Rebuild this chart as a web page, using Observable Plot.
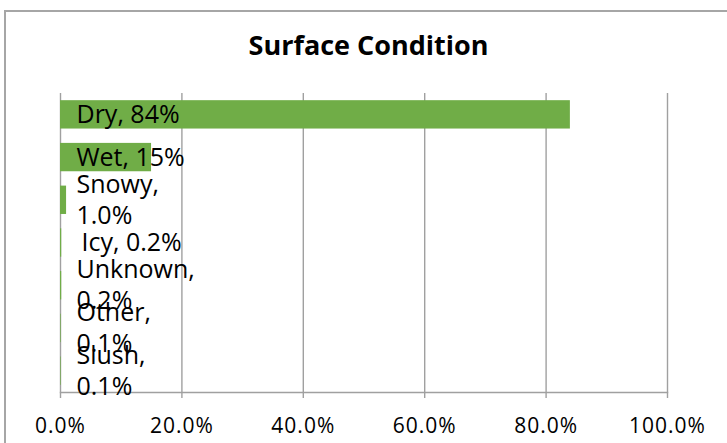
<!DOCTYPE html>
<html>
<head>
<meta charset="utf-8">
<script src="https://cdn.jsdelivr.net/npm/d3@7"></script>
<script src="https://cdn.jsdelivr.net/npm/@observablehq/plot@0.6"></script>
<style>
  html, body { margin: 0; padding: 0; background: #fff; overflow: hidden; }
  body { width: 727px; height: 443px; position: relative; font-family: "Open Sans", sans-serif; }
  #border { position: absolute; left: 4px; top: 10px; width: 900px; height: 700px;
            border: 2px solid #a6a6a6; box-sizing: border-box; pointer-events: none; }
  #title { height: 80px; box-sizing: border-box; padding-top: 30px; padding-left: 10px;
           font: bold 27px/30px "Open Sans", sans-serif; text-align: center; color: #000; }
  #chart svg { display: block; }
  #chart svg g[aria-label="x-axis tick label"] text { letter-spacing: 1px; }
</style>
</head>
<body>
<div id="border"></div>
<div id="title">Surface Condition</div>
<div id="chart"></div>
<script>
// Share of crashes by road surface condition
const categories = ["Dry", "Wet", "Snowy", "Icy", "Unknown", "Other", "Slush"];
const shares = [0.84, 0.15, 0.010, 0.002, 0.002, 0.001, 0.001];
const labels = ["Dry, 84%", "Wet, 15%", "Snowy,\n1.0%", "Icy, 0.2%", "Unknown,\n0.2%", "Other,\n0.1%", "Slush,\n0.1%"];
const xTicks = [0, 0.2, 0.4, 0.6, 0.8, 1.0];

const rows = categories.map((c, i) => ({category: c, share: shares[i], label: labels[i]}));
const gray = "#a0a0a0";

const chart = Plot.plot({
  width: 727,
  height: 363,
  marginTop: 13,
  marginBottom: 51,
  marginLeft: 60,
  marginRight: 60,
  style: {fontFamily: "Open Sans, sans-serif", color: "#000", background: "#fff"},
  x: {domain: [0, 1], ticks: xTicks, tickFormat: d3.format(".1%"), label: null},
  y: {domain: categories, paddingInner: 0.336, paddingOuter: 0.168, round: false, axis: null},
  marks: [
    Plot.gridX(xTicks, {stroke: gray, strokeOpacity: 1, strokeWidth: 1.4}),
    Plot.frame({anchor: "bottom", stroke: gray, strokeWidth: 1.4}),
    Plot.axisX(xTicks, {tickSize: 6, tickPadding: 20, stroke: gray, strokeWidth: 1.4,
      tickFormat: d3.format(".1%"), fontSize: 21, fill: "#000", label: null}),
    Plot.barX(rows, {x: "share", y: "category", fill: "#70ad47"}),
    Plot.text(rows.filter(d => d.category !== "Icy"), {
      x: 0, y: "category", text: "label", textAnchor: "start", dx: 16, dy: -2,
      fontSize: 25, lineHeight: 1.25, fill: "#000"
    }),
    Plot.text(rows.filter(d => d.category === "Icy"), {
      x: 0, y: "category", text: "label", textAnchor: "start", dx: 21, dy: -2,
      fontSize: 25, lineHeight: 1.25, fill: "#000"
    })
  ]
});
document.getElementById("chart").appendChild(chart);
</script>
</body>
</html>
